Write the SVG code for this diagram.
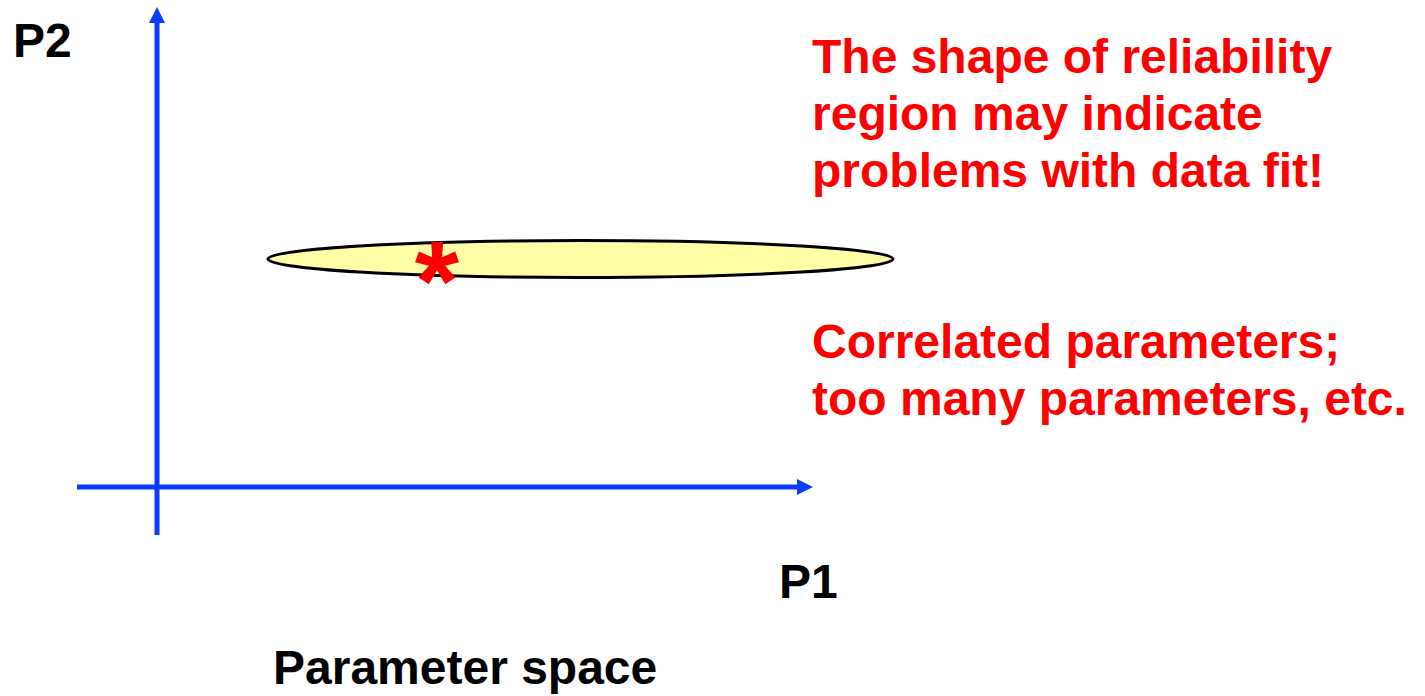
<svg xmlns="http://www.w3.org/2000/svg" width="1425" height="696" viewBox="0 0 1425 696">
<style>
.axis{stroke:#0a3cff;stroke-width:5;fill:none}
.lbl{font-family:"Liberation Sans",Arial,sans-serif;font-weight:bold;font-size:48px;fill:#000}
.red{font-family:"Liberation Sans",Arial,sans-serif;font-weight:bold;font-size:48px;fill:#ff0000}
</style>
<defs>
<marker id="ah" viewBox="0 0 16 16" refX="0" refY="8" markerWidth="16" markerHeight="16" markerUnits="userSpaceOnUse" orient="auto">
<path d="M0,0 L16,8 L0,16 Z" fill="#0a3cff"/>
</marker>
</defs>
<rect width="1425" height="696" fill="#fff"/>
<g id="connectors">
<line class="axis" x1="157" y1="535" x2="157" y2="23" marker-end="url(#ah)"/>
<line class="axis" x1="77" y1="487" x2="797" y2="487" marker-end="url(#ah)"/>
</g>
<g id="region">
<ellipse cx="580.5" cy="259" rx="312.5" ry="18.5" fill="#ffffa6" stroke="#000" stroke-width="3"/>
</g>
<g id="estimate">
<text x="437" y="320" text-anchor="middle" font-family="'Liberation Sans',Arial,sans-serif" font-weight="bold" font-size="114" fill="#ff0000">*</text>
</g>
<g id="labels">
<text class="lbl" x="13" y="57">P2</text>
<text class="lbl" x="779" y="598">P1</text>
<text class="lbl" x="273" y="684">Parameter space</text>
</g>
<g id="notes">
<text class="red" x="812" y="73">The shape of reliability</text>
<text class="red" x="812" y="130">region may indicate</text>
<text class="red" x="812" y="187">problems with data fit!</text>
<text class="red" x="812" y="358">Correlated parameters;</text>
<text class="red" x="812" y="415">too many parameters, etc.</text>
</g>
</svg>
